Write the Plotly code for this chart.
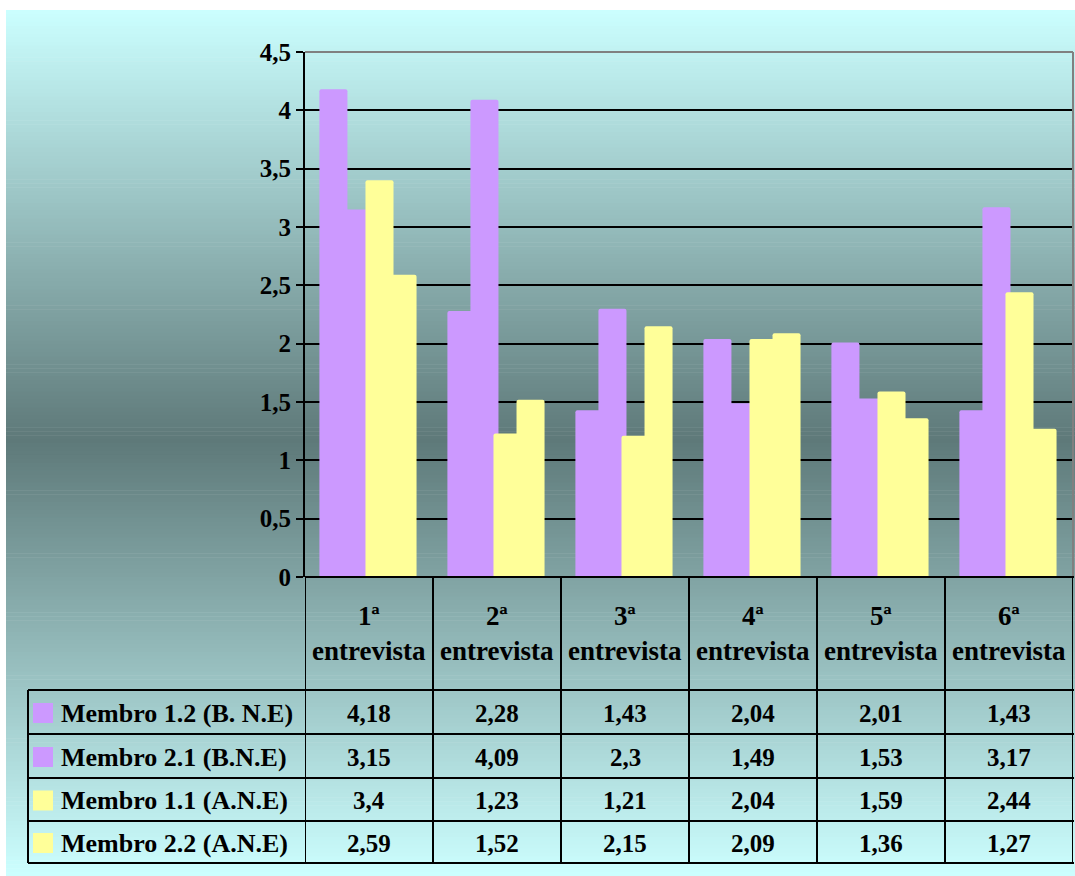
import plotly.graph_objects as go

# ---------------- data ----------------
categories = ["1ª entrevista", "2ª entrevista", "3ª entrevista",
              "4ª entrevista", "5ª entrevista", "6ª entrevista"]
header_labels = ["1ª<br>entrevista", "2ª<br>entrevista", "3ª<br>entrevista",
                 "4ª<br>entrevista", "5ª<br>entrevista", "6ª<br>entrevista"]
series_names = ["Membro 1.2 (B. N.E)", "Membro 2.1 (B.N.E)",
                "Membro 1.1 (A.N.E)", "Membro 2.2 (A.N.E)"]
membro_1_2 = [4.18, 2.28, 1.43, 2.04, 2.01, 1.43]
membro_2_1 = [3.15, 4.09, 2.3, 1.49, 1.53, 3.17]
membro_1_1 = [3.4, 1.23, 1.21, 2.04, 1.59, 2.44]
membro_2_2 = [2.59, 1.52, 2.15, 2.09, 1.36, 1.27]
series_values = [membro_1_2, membro_2_1, membro_1_1, membro_2_2]
series_colors = ["#CC99FF", "#CC99FF", "#FFFF99", "#FFFF99"]
y_ticks = [0, 0.5, 1, 1.5, 2, 2.5, 3, 3.5, 4, 4.5]
y_tick_text = ["0", "0,5", "1", "1,5", "2", "2,5", "3", "3,5", "4", "4,5"]

# ---------------- layout geometry ----------------
W, H = 1075, 876
ML, MR, MT, MB = 305, 2, 52, 299
PW = W - ML - MR
PH = H - MT - MB
FONT = "Liberation Serif, Times New Roman, serif"


def px_x(px):
    return (px - ML) / PW


def px_y(py):
    return (H - MB - py) / PH


fig = go.Figure()

bar_width = 0.219
bar_step = 0.18
first_offset = -(3 * bar_step + bar_width) / 2 - 0.008
for i, (name, vals, col) in enumerate(zip(series_names, series_values, series_colors)):
    fig.add_trace(go.Bar(
        x=categories, y=vals, name=name,
        width=bar_width, offset=first_offset + i * bar_step,
        marker=dict(color=col, line=dict(width=0), cornerradius=2),
        showlegend=False, hoverinfo="x+y+name",
    ))

shapes = []

# gradient background panel (vertical: cyan -> dark slate -> cyan)
top_c = (204, 255, 255)
mid_c = (94, 121, 121)
panel_top, panel_bot, panel_mid = 10, 876, 440
n_strips = 220
for k in range(n_strips):
    y0 = panel_top + (panel_bot - panel_top) * k / n_strips
    y1 = panel_top + (panel_bot - panel_top) * (k + 1) / n_strips
    yc = (y0 + y1) / 2
    if yc <= panel_mid:
        t = (yc - panel_top) / (panel_mid - panel_top)
    else:
        t = (panel_bot - yc) / (panel_bot - panel_mid)
    c = tuple(int(round(top_c[j] + (mid_c[j] - top_c[j]) * t)) for j in range(3))
    shapes.append(dict(type="rect", xref="paper", yref="paper", layer="below",
                       x0=px_x(6), x1=px_x(W + 2), y0=px_y(y1 + 0.6), y1=px_y(y0),
                       fillcolor="rgb(%d,%d,%d)" % c, line=dict(width=0)))

# plot area border (grey) on top/right
shapes.append(dict(type="line", xref="paper", yref="paper", x0=0, x1=1, y0=1, y1=1,
                   line=dict(color="#808080", width=2)))
shapes.append(dict(type="line", xref="paper", yref="paper", x0=1, x1=1, y0=0, y1=1,
                   line=dict(color="#808080", width=2)))

# data table
row_edges = [690, 734, 778, 821, 863]
table_right = px_x(1074)
for ry in row_edges:
    shapes.append(dict(type="line", xref="paper", yref="paper",
                       x0=px_x(28), x1=table_right, y0=px_y(ry), y1=px_y(ry),
                       line=dict(color="black", width=2)))
shapes.append(dict(type="line", xref="paper", yref="paper",
                   x0=px_x(28), x1=px_x(28), y0=px_y(row_edges[0]), y1=px_y(row_edges[-1]),
                   line=dict(color="black", width=2)))
for ci in range(len(categories) + 1):
    xv = ci - 0.5
    shapes.append(dict(type="line", xref="x", yref="paper",
                       x0=xv, x1=xv, y0=0, y1=px_y(row_edges[-1]),
                       line=dict(color="black", width=2)))
shapes.append(dict(type="line", xref="paper", yref="paper",
                   x0=0, x1=table_right, y0=0, y1=0,
                   line=dict(color="black", width=2)))

annotations = []
# header
for ci, lab in enumerate(header_labels):
    annotations.append(dict(x=categories[ci], xref="x", y=px_y(633), yref="paper",
                            text=lab, showarrow=False, xanchor="center", yanchor="middle",
                            font=dict(family=FONT, size=27, color="black", weight="bold")))
# rows
for ri, (name, vals, col) in enumerate(zip(series_names, series_values, series_colors)):
    yt, yb = row_edges[ri], row_edges[ri + 1]
    yc = (yt + yb) / 2 + 1
    shapes.append(dict(type="rect", xref="paper", yref="paper",
                       x0=px_x(33), x1=px_x(53), y0=px_y(yc + 10), y1=px_y(yc - 10),
                       fillcolor=col, line=dict(width=0)))
    annotations.append(dict(x=px_x(59), xref="paper", y=px_y(yc), yref="paper",
                            text=name, showarrow=False, xanchor="left", yanchor="middle",
                            font=dict(family=FONT, size=26, color="black", weight="bold")))
    for ci, v in enumerate(vals):
        annotations.append(dict(x=categories[ci], xref="x", y=px_y(yc), yref="paper",
                                text=str(v).replace(".", ","), showarrow=False,
                                xanchor="center", yanchor="middle",
                                font=dict(family=FONT, size=25, color="black", weight="bold")))

fig.update_layout(
    width=W, height=H,
    margin=dict(l=ML, r=MR, t=MT, b=MB, autoexpand=False),
    paper_bgcolor="white", plot_bgcolor="white",
    barmode="overlay",
    shapes=shapes, annotations=annotations,
    showlegend=False,
    xaxis=dict(showticklabels=False, ticks="", showgrid=False, zeroline=False,
               showline=False, range=[-0.5, 5.5], fixedrange=True),
    yaxis=dict(range=[0, 4.5], tickvals=y_ticks, ticktext=y_tick_text,
               showgrid=True, gridcolor="black", gridwidth=2,
               zeroline=True, zerolinecolor="black", zerolinewidth=2,
               showline=True, linecolor="black", linewidth=2,
               ticks="outside", ticklen=7, tickwidth=2, tickcolor="black",
               tickfont=dict(family=FONT, size=25, color="black", weight="bold"),
               fixedrange=True),
)

fig.write_html("out.html")
